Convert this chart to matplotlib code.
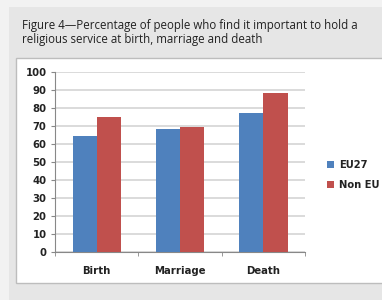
import matplotlib.pyplot as plt
import numpy as np
from matplotlib.patches import Rectangle

categories = ["Birth", "Marriage", "Death"]
eu27 = [64, 68, 77]
non_eu = [75, 69, 88]
yticks = [0, 10, 20, 30, 40, 50, 60, 70, 80, 90, 100]

W, H = 382, 300
fig = plt.figure(figsize=(W / 100, H / 100), dpi=100)
fig.patch.set_facecolor("#f2f2f2")

# gray panel and white chart box
fig.patches.append(Rectangle((9 / W, 0), 1, (H - 7) / H, transform=fig.transFigure,
                             facecolor="#e6e6e6", edgecolor="none", zorder=0))
fig.patches.append(Rectangle((16 / W, (H - 283) / H), 1, (283 - 58) / H,
                             transform=fig.transFigure, facecolor="white",
                             edgecolor="#bdbdbd", linewidth=1, zorder=1))

fig.text(22 / W, 1 - 32.5 / H,
         "Figure 4\u2014Percentage of people who find it important to hold a\n"
         "religious service at birth, marriage and death",
         fontsize=8.3, family="Open Sans", color="#222222", va="center", linespacing=1.15)

ax = fig.add_axes([55 / W, 1 - 252 / H, 250 / W, (252 - 71.5) / H])
ax.set_zorder(2)
x = np.arange(len(categories))
w = 0.29
ax.bar(x - w / 2, eu27, w, color="#4f81bd", label="EU27", zorder=3)
ax.bar(x + w / 2, non_eu, w, color="#c0504d", label="Non EU", zorder=3)

ax.set_xlim(-0.5, 2.5)
ax.set_ylim(0, 100)
ax.set_yticks(yticks)
ax.set_yticklabels([str(v) for v in yticks], fontsize=7.3, fontweight="bold",
                   family="DejaVu Sans", color="#222222")
ax.yaxis.grid(True, color="#d4d4d4", linewidth=1.2, zorder=0)
ax.set_axisbelow(True)

ax.set_xticks(x)
ax.set_xticklabels(categories, fontsize=7.3, fontweight="bold", family="DejaVu Sans",
                   color="#222222")
ax.tick_params(axis="x", length=0, pad=10)
ax.set_xticks([-0.5, 0.5, 1.5, 2.5], minor=True)
ax.tick_params(axis="x", which="minor", length=3, color="#888888")
ax.tick_params(axis="y", length=3, color="#888888", pad=3)

for s in ["top", "right"]:
    ax.spines[s].set_visible(False)
ax.spines["left"].set_color("#888888")
ax.spines["bottom"].set_color("#888888")
ax.spines["left"].set_linewidth(0.8)
ax.spines["bottom"].set_linewidth(0.8)

leg = fig.legend(loc="center left", bbox_to_anchor=(318 / W, 1 - 175 / H),
                 frameon=False, handlelength=0.7, handleheight=0.7, handletextpad=0.5,
                 labelspacing=1.0, prop={"size": 7.2, "weight": "bold", "family": "DejaVu Sans"})
for t in leg.get_texts():
    t.set_color("#222222")

fig.savefig("out.png", dpi=100, facecolor=fig.get_facecolor())
